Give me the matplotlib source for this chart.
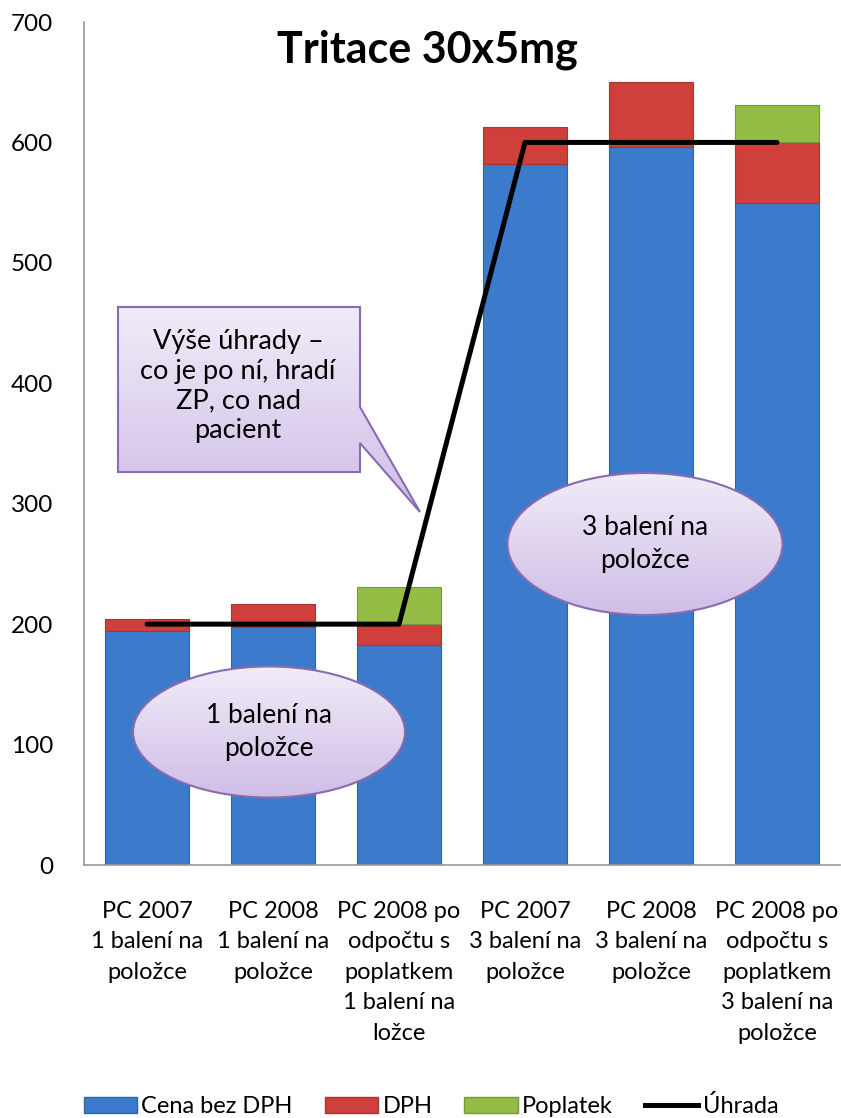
import numpy as np
import matplotlib.pyplot as plt
from matplotlib.colors import to_rgb
from matplotlib.patches import Polygon, Ellipse, Patch
from matplotlib.lines import Line2D

plt.rcParams['font.family'] = ['Lato', 'DejaVu Sans']

categories = ["PC 2007\n1 balení na\npoložce",
              "PC 2008\n1 balení na\npoložce",
              "PC 2008 po\nodpočtu s\npoplatkem\n1 balení na\nložce",
              "PC 2007\n3 balení na\npoložce",
              "PC 2008\n3 balení na\npoložce",
              "PC 2008 po\nodpočtu s\npoplatkem\n3 balení na\npoložce"]
cena_bez_dph = [194, 198, 183, 582, 596, 550]
dph = [10, 19, 17, 31, 54, 50]
poplatek = [0, 0, 31, 0, 0, 31]
uhrada = [200, 200, 200, 600, 600, 600]

BLUE = '#3c7bcb'
RED = '#cf3f3c'
GREEN = '#94bd45'
PURPLE_EDGE = '#8a6bb1'


def px(x, y):
    # figure pixel (from top-left) -> figure fraction
    return (x / 841.0, 1 - y / 1118.0)


def gradient_patch(fig, patch, c_top, c_bot, extent):
    fig.add_artist(patch)
    grad = np.linspace(0, 1, 256).reshape(-1, 1, 1)
    top = np.array(to_rgb(c_top))
    bot = np.array(to_rgb(c_bot))
    img = top * (1 - grad) + bot * grad
    ax_img = fig.add_axes(extent)
    ax_img.axis('off')
    im = ax_img.imshow(img, aspect='auto', extent=(0, 1, 0, 1), origin='upper', zorder=5)
    im.set_clip_path(patch)
    return ax_img


fig = plt.figure(figsize=(8.41, 11.18), dpi=100)
ax = fig.add_axes([84 / 841, 1 - 865 / 1118, 756 / 841, 843 / 1118])

x = np.arange(len(categories))
w = 0.667
bottom2 = np.array(cena_bez_dph)
bottom3 = bottom2 + np.array(dph)
ax.bar(x, cena_bez_dph, w, color=BLUE, edgecolor='#2f64a8', linewidth=0.8, zorder=2)
ax.bar(x, dph, w, bottom=bottom2, color=RED, edgecolor='#a83532', linewidth=0.8, zorder=2)
ax.bar(x, poplatek, w, bottom=bottom3, color=GREEN, edgecolor='#76983a',
       linewidth=[0.8 if v > 0 else 0 for v in poplatek], zorder=2)
ax.plot(x, uhrada, color='black', linewidth=3.6, solid_capstyle='round', zorder=4)

ax.set_xlim(-0.5, 5.5)
ax.set_ylim(0, 700)
ax.set_yticks(range(0, 701, 100))
ax.set_xticks(x)
ax.set_xticklabels(categories, fontsize=17, linespacing=1.55)
ax.tick_params(axis='both', length=0)
ax.tick_params(axis='y', pad=22, labelsize=17.5)
ax.tick_params(axis='x', pad=26)
for s in ['top', 'right']:
    ax.spines[s].set_visible(False)
for s in ['left', 'bottom']:
    ax.spines[s].set_color('#999999')
    ax.spines[s].set_linewidth(1.2)

fig.text(*px(427, 50), "Tritace 30x5mg", ha='center', va='center',
         fontsize=31, fontweight='bold')

# callout
pts = [px(118, 307), px(360, 307), px(360, 407), px(420, 512), px(360, 443),
       px(360, 472), px(118, 472)]
callout = Polygon(pts, closed=True, transform=fig.transFigure, facecolor='none',
                  edgecolor=PURPLE_EDGE, linewidth=1.5, zorder=6)
x0, y0 = px(118, 512)
x1, y1 = px(420, 307)
gradient_patch(fig, callout, '#f1ecf8', '#cfbde7', [x0, y0, x1 - x0, y1 - y0])
fig.text(*px(238, 386), "Výše úhrady –\nco je po ní, hradí\nZP, co nad\npacient",
         ha='center', va='center', fontsize=19.5, linespacing=1.22, zorder=10)

# ellipses
for cx, cy, ew, eh, label in [(269, 732, 272, 131, "1 balení na\npoložce"),
                              (645, 544, 275, 142, "3 balení na\npoložce")]:
    fx, fy = px(cx, cy)
    e = Ellipse((fx, fy), ew / 841, eh / 1118, transform=fig.transFigure,
                facecolor='none', edgecolor=PURPLE_EDGE, linewidth=1.5, zorder=6)
    ex0, ey0 = px(cx - ew / 2, cy + eh / 2)
    gradient_patch(fig, e, '#f1ecf8', '#cfbde7', [ex0, ey0, ew / 841, eh / 1118])
    fig.text(fx, fy, label, ha='center', va='center', fontsize=19, linespacing=1.42, zorder=10)

handles = [Patch(facecolor=BLUE, edgecolor='#2f64a8'),
           Patch(facecolor=RED, edgecolor='#a83532'),
           Patch(facecolor=GREEN, edgecolor='#76983a'),
           Line2D([0], [0], color='black', linewidth=3.6)]
fig.legend(handles, ["Cena bez DPH", "DPH", "Poplatek", "Úhrada"], loc='center',
           bbox_to_anchor=px(431, 1106), ncol=4, frameon=False, fontsize=17,
           handlelength=2.25, handleheight=0.65, handletextpad=0.2, columnspacing=1.35,
           borderpad=0.1)

fig.savefig('out.png', dpi=100)
